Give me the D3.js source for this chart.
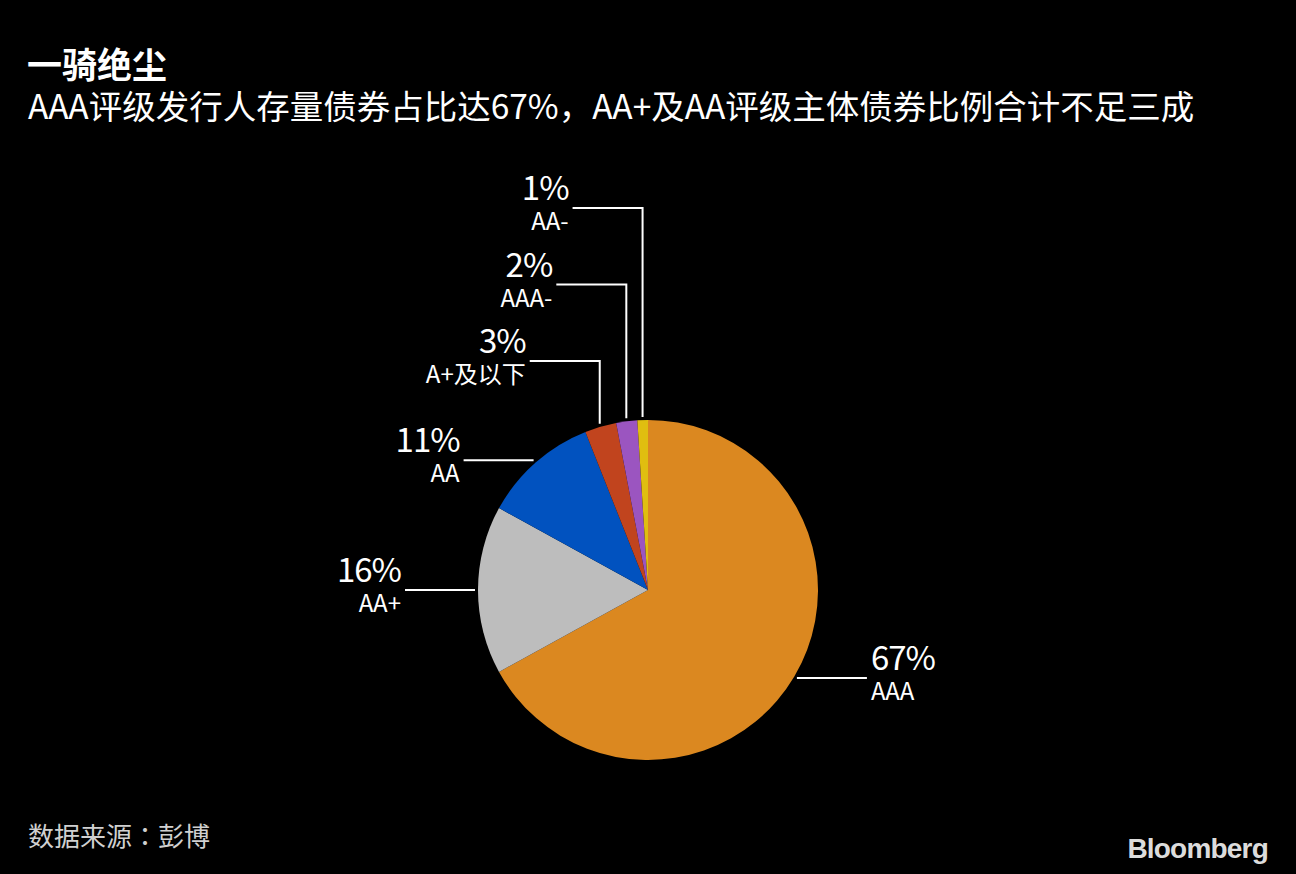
<!DOCTYPE html>
<html>
<head>
<meta charset="utf-8">
<script src="https://cdn.jsdelivr.net/npm/d3@7"></script>
<style>
  html, body { margin: 0; padding: 0; background: #000; }
  svg text { font-family: "Noto Sans CJK SC", "Noto Sans", sans-serif; }
</style>
</head>
<body>
<div id="chart"></div>
<script>
// data, clockwise from 12 o'clock
var ratings = ["AAA", "AA+", "AA", "A+及以下", "AAA-", "AA-"];
var shares = [67, 16, 11, 3, 2, 1];
var colors = ["#db8820", "#bdbdbd", "#0152bf", "#c1441e", "#9b55c0", "#e0be10"];

var title = "一骑绝尘";
var subtitle = "AAA评级发行人存量债券占比达67%，AA+及AA评级主体债券比例合计不足三成";
var sourceLabel = "数据来源";
var sourceName = "彭博";

var width = 1296, height = 874;
var cx = 648, cy = 590, radius = 170;

var svg = d3.select("#chart").append("svg")
  .attr("width", width)
  .attr("height", height);

svg.append("rect")
  .attr("width", width)
  .attr("height", height)
  .attr("fill", "#000");

// header
svg.append("text")
  .attr("x", 27).attr("y", 78)
  .attr("fill", "#fff")
  .attr("font-size", 35)
  .attr("font-weight", 700)
  .text(title);

svg.append("text")
  .attr("x", 28).attr("y", 119)
  .attr("fill", "#fff")
  .attr("font-size", 33.5)
  .text(subtitle);

// pie
var pie = d3.pie().sort(null).value(function (d) { return d; });
var arcs = pie(shares);

var arc = d3.arc().innerRadius(0).outerRadius(radius);

var g = svg.append("g")
  .attr("transform", "translate(" + cx + "," + cy + ")");

g.selectAll("path.slice")
  .data(arcs)
  .enter().append("path")
  .attr("class", "slice")
  .attr("d", arc)
  .attr("fill", function (d, i) { return colors[i]; });

// leader lines + labels
var lineLen = 70, gap = 3;
// small slices near the top get stacked callouts, the biggest one lowest
var smallIdx = [];
arcs.forEach(function (d, i) { if (d.value < 5) smallIdx.push(i); });

arcs.forEach(function (d, i) {
  var mid = (d.startAngle + d.endAngle) / 2;
  var ex = (radius + gap) * Math.sin(mid);
  var ey = -(radius + gap) * Math.cos(mid);
  var left = mid > Math.PI;
  var pts, ly;
  if (d.value < 5) {
    var k = smallIdx.indexOf(i);
    ly = -radius - 59 - k * 76.5;
    pts = [[ex, ey], [ex, ly], [ex - lineLen, ly]];
  } else {
    ly = ey;
    pts = [[ex, ey], [ex + (left ? -lineLen : lineLen), ey]];
  }
  g.append("path")
    .attr("d", d3.line()(pts))
    .attr("fill", "none")
    .attr("stroke", "#fff")
    .attr("stroke-width", 2);

  var tx = pts[pts.length - 1][0] + (left ? -4 : 4);
  var anchor = left ? "end" : "start";
  g.append("text")
    .attr("x", tx).attr("y", ly - 8)
    .attr("text-anchor", anchor)
    .attr("fill", "#fff")
    .attr("font-size", 33)
    .attr("letter-spacing", -1)
    .text(d.value + "%");
  g.append("text")
    .attr("x", tx).attr("y", ly + 22)
    .attr("text-anchor", anchor)
    .attr("fill", "#fff")
    .attr("font-size", 24)
    .text(ratings[i]);
});

// footer
var src = svg.append("text")
  .attr("x", 28).attr("y", 846)
  .attr("fill", "#d0d0d0")
  .attr("font-size", 26);
src.append("tspan").text(sourceLabel);
src.append("tspan").style("font-family", "'Noto Sans CJK TC', 'Noto Sans CJK SC'").text("：");
src.append("tspan").text(sourceName);

svg.append("text")
  .attr("x", 1268).attr("y", 858)
  .attr("text-anchor", "end")
  .attr("fill", "#dcdcdc")
  .attr("font-size", 28)
  .attr("font-weight", 700)
  .attr("letter-spacing", -0.8)
  .style("font-family", "'Liberation Sans', Arial, sans-serif")
  .text("Bloomberg");
</script>
</body>
</html>
